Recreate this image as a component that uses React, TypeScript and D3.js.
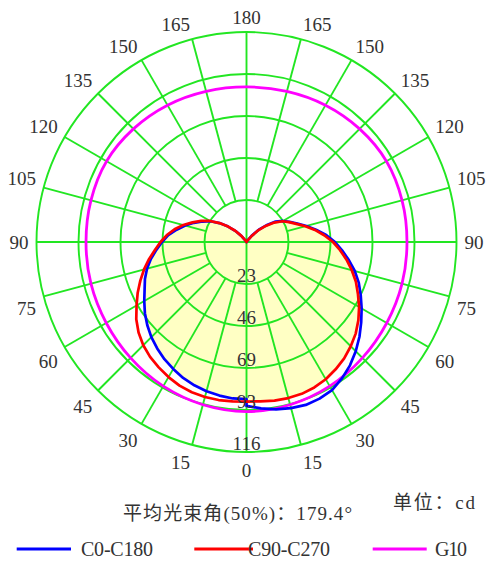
import React from 'react';
import * as d3 from 'd3';

// gamma angles (deg from nadir) for the C-plane curves
const gammaAngles = [0, 5, 10, 15, 20, 25, 30, 35, 40, 45, 50, 55, 60, 65, 70, 75, 80, 85, 90,
  95, 100, 105, 110, 115, 120, 125, 130, 135, 140, 145, 150, 155, 160, 165, 170, 175, 180];

// luminous intensity (cd)
const c0 = [90.4, 92.1, 93.7, 94.8, 95.6, 95.3, 94.3, 91.8, 88.8, 85.2, 81.3, 77.2, 73.3, 69.5, 65.9, 61.8, 57.3, 52.9, 48.8,
  44.1, 38.9, 34.2, 29.8, 26.2, 23.2, 19.6, 14.3, 9.6, 4.4, 1.1, 0.3, 0, 0, 0, 0, 0, 0];
const c180 = [86.6, 86.6, 86.0, 85.2, 84.1, 82.7, 80.8, 78.9, 76.6, 74.2, 71.4, 68.4, 65.1, 62.0, 59.6, 56.8, 53.5, 49.9, 46.6,
  43.3, 39.1, 35.0, 30.9, 26.7, 22.9, 18.2, 13.2, 8.5, 3.9, 1.1, 0.3, 0, 0, 0, 0, 0, 0];
const c90 = [88.0, 88.2, 88.8, 89.1, 89.1, 88.5, 87.4, 85.7, 83.8, 81.3, 78.6, 75.3, 71.7, 67.8, 64.2, 60.1, 56.0, 51.8, 47.7,
  43.0, 38.3, 33.6, 29.2, 25.9, 22.9, 18.7, 13.8, 9.1, 4.1, 1.1, 0.3, 0, 0, 0, 0, 0, 0];
const c270 = [88.0, 88.2, 88.5, 88.5, 88.2, 87.4, 86.0, 84.4, 82.7, 80.5, 77.7, 74.2, 70.0, 66.2, 62.3, 58.5, 54.6, 50.7, 47.4,
  44.1, 40.3, 36.1, 31.7, 27.6, 23.2, 18.2, 13.2, 8.8, 4.4, 1.1, 0.3, 0, 0, 0, 0, 0, 0];

// G10 curve
const g10Angles = [0, 15, 30, 45, 60, 75, 90, 105, 120, 135, 150, 165, 180];
const g10 = [93.5, 92.9, 91.8, 90.4, 89.3, 88.8, 88.5, 88.8, 89.1, 88.2, 87.1, 86.0, 85.5];

const maxValue = 115.8;
const ringLabels = ['23', '46', '69', '93', '116'];
const angleLabels = [0, 15, 30, 45, 60, 75, 90, 105, 120, 135, 150, 165, 180];

const beamText = '平均光束角(50%)：179.4°';
const unitText = '单位：cd';
const legendNames = ['C0-C180', 'C90-C270', 'G10'];
const legendColors = ['#0000ff', '#ff0000', '#ff00ff'];

const W = 492;
const H = 562;
const cx = 246.5;
const cy = 242;
const R = 210;
const GREEN = '#22e622';
const TEXT = '#333333';
const NUMFONT = '"Liberation Serif", "Noto Sans CJK SC", serif';

const rad = (d: number) => (d * Math.PI) / 180;

export default function App() {
  const rScale = d3.scaleLinear().domain([0, maxValue]).range([0, R]);
  const ringVals = ringLabels.map((_, i) => (maxValue * (i + 1)) / ringLabels.length);

  const radial = d3.lineRadial<[number, number]>().curve(d3.curveLinearClosed);
  const halfPts = (right: number[], left: number[]): [number, number][] => [
    ...gammaAngles.map((g, i) => [Math.PI - rad(g), rScale(right[i])] as [number, number]),
    ...gammaAngles.map((g, i) => [Math.PI + rad(g), rScale(left[i])] as [number, number]).reverse(),
  ];
  const bluePath = radial(halfPts(c0, c180)) || '';
  const redPath = radial(halfPts(c90, c270)) || '';

  const g10Pts: [number, number][] = [
    ...g10Angles.map((g, i) => [Math.PI - rad(g), rScale(g10[i])] as [number, number]),
    ...g10Angles
      .map((g, i) => [Math.PI + rad(g), rScale(g10[i])] as [number, number])
      .slice(1, -1)
      .reverse(),
  ];
  const g10Path =
    d3.lineRadial<[number, number]>().curve(d3.curveCatmullRomClosed)(g10Pts) || '';

  // radial grid
  const spokes: number[] = [];
  for (let a = 0; a < 360; a += 15) spokes.push(a);
  const r1 = rScale(ringVals[0]);

  const labelR = 218;
  const angleLabelEls: React.ReactNode[] = [];
  angleLabels.forEach((t) => {
    const sides = t === 0 || t === 180 ? [0] : [-1, 1];
    sides.forEach((s) => {
      const px = cx + (s === 0 ? 0 : s) * labelR * Math.sin(rad(t));
      const py = cy + labelR * Math.cos(rad(t));
      const dy = t < 90 ? 10 : t > 90 ? -7 : 0;
      angleLabelEls.push(
        <text
          key={`al-${t}-${s}`}
          x={px}
          y={py + dy}
          textAnchor={s === 0 ? 'middle' : s < 0 ? 'end' : 'start'}
          dominantBaseline="central"
          fontSize={19}
          fontFamily={NUMFONT}
          fill={TEXT}
        >
          {t}
        </text>
      );
    });
  });

  const legendLayout = [
    { x1: 16.7, x2: 71, tx: 81, tw: 72 },
    { x1: 194.3, x2: 253, tx: 248, tw: 82 },
    { x1: 372.7, x2: 426.7, tx: 435, tw: 32 },
  ];

  return (
    <svg
      width={W}
      height={H}
      style={{ position: 'absolute', left: 0, top: 0, background: '#ffffff' }}
    >
      <defs>
        <clipPath id="redClip">
          <path d={redPath} transform={`translate(${cx},${cy})`} />
        </clipPath>
      </defs>
      <rect x={0} y={0} width={W} height={H} fill="#ffffff" />

      {/* yellow fill */}
      <g clipPath="url(#redClip)">
        <path d={bluePath} transform={`translate(${cx},${cy})`} fill="#ffffc4" stroke="none" />
      </g>

      {/* grid */}
      <g transform={`translate(${cx},${cy})`} stroke={GREEN} strokeWidth={1.9} fill="none">
        {ringVals.map((v, i) => (
          <circle key={`ring-${i}`} r={rScale(v)} />
        ))}
        {spokes.map((a) => {
          const isAxis = a % 90 === 0;
          const r0 = isAxis ? 0 : r1;
          return (
            <line
              key={`sp-${a}`}
              x1={r0 * Math.sin(rad(a))}
              y1={r0 * Math.cos(rad(a))}
              x2={R * Math.sin(rad(a))}
              y2={R * Math.cos(rad(a))}
            />
          );
        })}
      </g>

      {/* curves */}
      <g transform={`translate(${cx},${cy})`} fill="none" strokeLinejoin="round">
        <path d={g10Path} stroke="#ff00ff" strokeWidth={2.8} />
        <path d={bluePath} stroke="#0000ff" strokeWidth={2.7} />
        <path d={redPath} stroke="#ff0000" strokeWidth={2.7} />
      </g>

      {/* ring labels */}
      {ringVals.map((v, i) => (
        <text
          key={`rl-${i}`}
          x={cx}
          y={cy + rScale(v) - 8.7}
          textAnchor="middle"
          dominantBaseline="central"
          fontSize={19}
          fontFamily={NUMFONT}
          fill={TEXT}
        >
          {ringLabels[i]}
        </text>
      ))}

      {angleLabelEls}

      {/* bottom texts */}
      <text
        x={123}
        y={513}
        dominantBaseline="central"
        fontSize={19}
        fontFamily={NUMFONT}
        fill={TEXT}
        textLength={229}
        lengthAdjust="spacing"
      >
        {beamText}
      </text>
      <text
        x={393}
        y={502}
        dominantBaseline="central"
        fontSize={19}
        fontFamily={NUMFONT}
        fill={TEXT}
        textLength={82}
        lengthAdjust="spacing"
      >
        {unitText}
      </text>

      {/* legend */}
      {legendNames.map((name, i) => {
        const L = legendLayout[i];
        return (
          <g key={`lg-${i}`}>
            <line x1={L.x1} x2={L.x2} y1={549} y2={549} stroke={legendColors[i]} strokeWidth={3} />
            <text
              x={L.tx}
              y={549}
              dominantBaseline="central"
              fontSize={20}
              fontFamily={NUMFONT}
              fill={TEXT}
              textLength={L.tw}
              lengthAdjust="spacing"
            >
              {name}
            </text>
          </g>
        );
      })}
    </svg>
  );
}
